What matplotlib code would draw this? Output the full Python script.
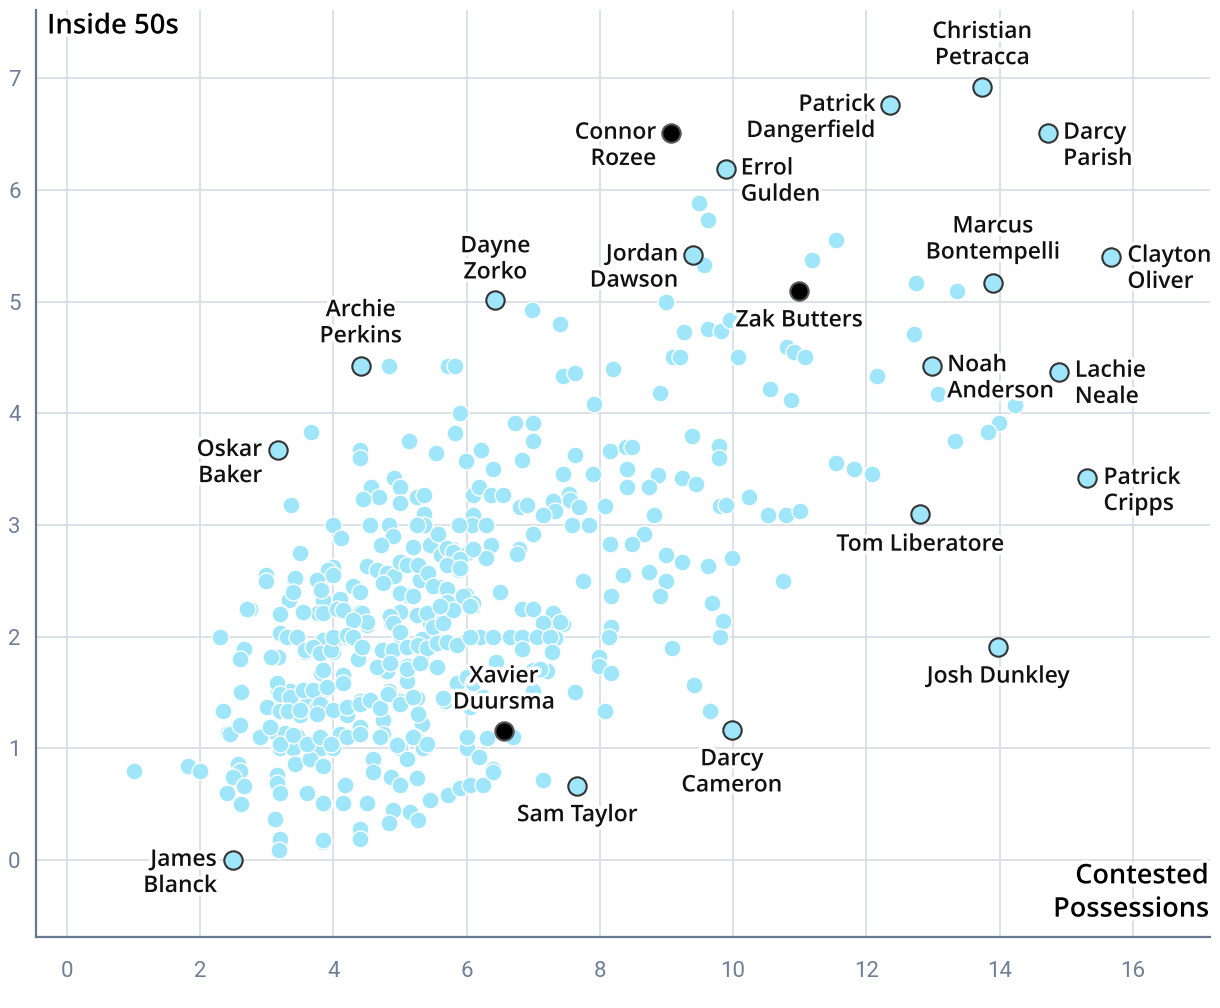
import matplotlib
matplotlib.use("Agg")
import matplotlib.pyplot as plt
import matplotlib.patheffects as pe

# ---------------- DATA ----------------
# Named players: contested possessions (x), inside 50s (y)
player_names = ["Christian\nPetracca", "Patrick\nDangerfield", "Darcy\nParish", "Connor\nRozee",
                "Errol\nGulden", "Clayton\nOliver", "Marcus\nBontempelli", "Jordan\nDawson",
                "Dayne\nZorko", "Zak Butters", "Archie\nPerkins", "Noah\nAnderson", "Lachie\nNeale",
                "Oskar\nBaker", "Patrick\nCripps", "Tom Liberatore", "Josh Dunkley", "Darcy\nCameron",
                "Xavier\nDuursma", "Sam Taylor", "James\nBlanck"]
player_contested = [13.74, 12.36, 14.73, 9.07, 9.89, 15.68, 13.90, 9.40, 6.43, 10.99, 4.41, 12.99,
                    14.89, 3.17, 15.32, 12.81, 13.98, 9.98, 6.56, 7.66, 2.49]
player_inside50 = [6.92, 6.76, 6.51, 6.51, 6.19, 5.40, 5.17, 5.42, 5.01, 5.09, 4.42, 4.42, 4.37,
                   3.67, 3.42, 3.10, 1.91, 1.16, 1.15, 0.66, 0.00]
player_highlight = [False, False, False, True, False, False, False, False, False, True, False, False,
                    False, False, False, False, False, False, True, False, False]

# Other players (contested, inside 50s), grouped by region of the chart
upper_pts = [(9.49, 5.88), (9.63, 5.73), (9.57, 5.33), (11.54, 5.55), (11.18, 5.37), (9.00, 5.00),
             (7.40, 4.80), (9.26, 4.73), (9.62, 4.75), (9.82, 4.74), (9.95, 4.83), (12.74, 5.17),
             (13.36, 5.09), (12.71, 4.71), (9.10, 4.50), (9.20, 4.50), (10.07, 4.50), (10.81, 4.59),
             (10.91, 4.55), (11.08, 4.50), (7.44, 4.33), (7.63, 4.36), (8.19, 4.40), (8.90, 4.18),
             (7.91, 4.08), (10.55, 4.22), (10.87, 4.12), (12.16, 4.33), (13.07, 4.17), (14.23, 4.07),
             (13.99, 3.91), (13.82, 3.83), (13.33, 3.75), (11.54, 3.55), (11.82, 3.50), (12.08, 3.46),
             (9.39, 3.80), (6.98, 4.92), (4.83, 4.42), (5.72, 4.42), (5.83, 4.42)]

mid_pts = [(7.63, 3.63), (8.15, 3.66), (8.40, 3.70), (8.49, 3.70), (9.79, 3.71), (9.79, 3.60),
           (7.45, 3.46), (7.90, 3.46), (8.41, 3.50), (8.41, 3.34), (8.88, 3.45), (8.74, 3.34),
           (9.24, 3.42), (9.44, 3.37), (7.54, 3.28), (7.55, 3.22), (7.30, 3.21), (7.33, 3.12),
           (7.68, 3.16), (7.15, 3.09), (8.08, 3.17), (8.81, 3.09), (7.58, 3.00), (7.83, 3.00),
           (9.80, 3.17), (9.90, 3.18), (10.24, 3.25), (10.53, 3.09), (10.80, 3.09), (11.00, 3.12),
           (8.66, 2.92), (8.15, 2.83), (8.49, 2.83), (8.99, 2.73), (9.24, 2.67), (9.62, 2.63),
           (9.99, 2.70), (7.74, 2.50), (8.35, 2.55), (8.74, 2.58), (8.99, 2.50), (8.90, 2.36),
           (8.17, 2.36), (10.75, 2.50), (9.69, 2.30), (9.85, 2.14), (9.81, 2.00), (8.17, 2.09),
           (8.14, 2.00), (7.44, 2.11), (7.18, 2.07), (7.33, 1.99), (7.28, 1.86), (7.99, 1.82),
           (7.99, 1.74), (8.16, 1.67), (9.09, 1.90), (9.42, 1.57), (7.15, 1.71), (7.20, 1.69),
           (7.62, 1.50), (8.08, 1.33), (9.66, 1.33), (7.15, 0.72)]

cluster_top_pts = [(5.90, 4.00), (5.82, 3.82), (6.73, 3.91), (6.99, 3.91), (6.99, 3.75), (6.83, 3.58),
                   (6.22, 3.67), (5.99, 3.57), (6.39, 3.50), (5.54, 3.64), (5.13, 3.75), (4.40, 3.67),
                   (4.40, 3.60), (4.91, 3.42), (5.00, 3.34), (5.00, 3.20), (4.57, 3.34), (4.68, 3.25),
                   (4.45, 3.23), (5.25, 3.25), (5.36, 3.27), (5.36, 3.10), (5.36, 3.00), (5.25, 3.00),
                   (6.09, 3.27), (6.18, 3.34), (6.36, 3.27), (6.54, 3.27), (6.09, 3.09), (6.08, 3.00),
                   (6.29, 3.00), (5.89, 3.00), (6.36, 2.82), (6.29, 2.70), (6.00, 2.75), (6.80, 3.16),
                   (6.90, 3.18), (6.99, 2.92), (6.78, 2.78), (6.75, 2.74), (4.00, 3.00), (4.12, 2.88),
                   (4.55, 3.00), (4.83, 3.00), (4.90, 2.90), (4.72, 2.82), (5.20, 2.80), (5.45, 2.82),
                   (5.57, 2.92), (5.78, 2.78), (5.90, 2.73), (5.62, 2.73), (5.72, 2.65), (5.89, 2.60),
                   (4.50, 2.63), (4.65, 2.60), (4.80, 2.57), (4.91, 2.54), (5.00, 2.67), (5.27, 2.64),
                   (5.42, 2.57), (4.33, 2.45), (4.00, 2.62), (4.00, 2.55), (5.10, 2.37), (5.30, 2.51),
                   (5.55, 2.45), (5.72, 2.43), (5.99, 2.37), (6.09, 2.27), (5.80, 2.30), (6.50, 2.40),
                   (6.83, 2.25), (7.00, 2.25), (3.80, 2.51), (3.85, 2.33), (4.12, 2.25), (4.40, 2.22),
                   (4.50, 2.13), (4.87, 2.13), (5.00, 2.22), (5.38, 2.21), (5.60, 2.13), (7.30, 2.21),
                   (7.40, 2.13), (7.15, 2.12)]

cluster_left_pts = [(3.66, 3.83), (3.36, 3.18), (3.50, 2.75), (2.99, 2.55), (2.99, 2.50), (3.41, 2.51),
                    (3.40, 2.40), (3.33, 2.33), (3.75, 2.51), (3.84, 2.33), (2.75, 2.25), (3.20, 2.21),
                    (3.55, 2.22), (3.77, 2.21), (3.92, 2.60),
                    (2.29, 2.00), (2.66, 1.89), (2.60, 1.80), (2.62, 1.50), (2.33, 1.33), (2.60, 1.20),
                    (2.42, 1.14), (2.89, 1.11), (1.00, 0.80), (1.82, 0.84), (2.00, 0.80), (2.57, 0.86),
                    (2.60, 0.80), (2.49, 0.74), (2.66, 0.66), (2.40, 0.60), (2.62, 0.50), (3.15, 0.76),
                    (3.15, 0.69), (3.20, 0.60), (3.60, 0.60), (3.12, 0.37), (3.20, 0.19), (3.18, 0.09),
                    (3.84, 0.16), (3.86, 0.50), (3.17, 1.82), (3.07, 1.82), (3.29, 2.00), (3.45, 2.00),
                    (3.57, 1.86), (3.82, 1.67), (3.15, 1.58), (3.17, 1.51), (3.35, 1.51), (3.00, 1.37),
                    (3.20, 1.33), (3.32, 1.33), (3.50, 1.30), (3.60, 1.40), (3.75, 1.37), (3.10, 1.15),
                    (3.27, 1.14), (3.45, 1.11), (3.20, 1.00), (3.40, 1.00), (3.67, 1.00), (3.82, 1.00),
                    (3.43, 0.86), (3.65, 0.90), (3.84, 0.84)]

cluster_low_pts = [(4.20, 2.00), (4.00, 1.94), (3.85, 1.97), (4.50, 2.10), (4.87, 2.12), (5.00, 2.01),
                   (5.45, 2.12), (5.50, 2.00), (5.33, 1.98), (5.35, 1.85), (5.10, 1.91), (5.10, 1.74),
                   (4.87, 1.88), (4.80, 1.69), (4.65, 1.73), (5.55, 1.73), (5.83, 1.92), (4.37, 1.80),
                   (4.15, 1.66), (4.00, 1.86), (3.85, 1.70), (3.85, 1.52), (6.20, 2.00), (6.40, 2.00),
                   (6.65, 2.00), (6.83, 2.00), (7.05, 2.00), (7.25, 2.00), (6.83, 1.89), (7.28, 1.86),
                   (6.44, 1.77), (7.00, 1.70), (7.10, 1.71), (5.85, 1.58), (6.25, 1.46), (6.15, 1.40),
                   (5.68, 1.42), (7.00, 1.51), (5.10, 1.60), (4.83, 1.51), (5.00, 1.42), (5.25, 1.45),
                   (4.40, 1.42), (4.20, 1.30), (4.40, 1.19), (4.75, 1.25), (4.75, 1.13), (5.33, 1.22),
                   (5.22, 1.10), (5.35, 1.00), (5.00, 1.00), (5.10, 0.90), (6.00, 1.00), (6.00, 1.10),
                   (6.18, 0.92), (6.40, 0.81), (6.30, 1.09), (6.70, 1.10), (4.10, 1.13), (4.00, 1.00),
                   (3.85, 0.84), (4.60, 0.90), (4.60, 0.79), (4.87, 0.74), (5.00, 0.67), (5.25, 0.73),
                   (4.17, 0.67), (4.15, 0.51), (4.50, 0.51), (3.85, 0.51), (5.45, 0.54), (5.72, 0.58),
                   (5.90, 0.64), (6.05, 0.67), (6.25, 0.67), (6.40, 0.79), (4.90, 0.45), (5.15, 0.43),
                   (5.27, 0.36), (4.83, 0.33), (4.40, 0.28), (4.40, 0.19), (3.85, 0.18)]

cluster_core_pts = [(5.70, 2.79), (5.80, 2.76), (5.90, 2.69), (5.10, 2.64), (5.27, 2.64), (5.42, 2.57),
                    (5.70, 2.64), (5.90, 2.61), (6.10, 2.78), (6.10, 2.30), (4.75, 2.48), (5.00, 2.39),
                    (5.20, 2.36), (5.50, 2.45), (5.70, 2.43), (5.80, 2.30), (5.70, 2.31), (5.95, 2.36),
                    (6.05, 2.27), (4.30, 2.45), (4.40, 2.40), (3.75, 2.51), (4.00, 2.55), (3.82, 2.42),
                    (4.10, 2.34), (3.42, 2.52), (3.40, 2.40), (3.20, 2.20), (3.55, 2.22), (3.85, 2.21),
                    (4.05, 2.25), (4.15, 2.24), (4.43, 2.21), (4.50, 2.13), (4.30, 2.15), (4.85, 2.18),
                    (4.90, 2.12), (5.00, 2.04), (5.25, 2.19), (5.40, 2.21), (5.50, 2.09), (5.65, 2.12),
                    (5.80, 2.24), (5.60, 2.27), (2.70, 2.25), (3.20, 2.03), (3.30, 2.00), (3.45, 2.00),
                    (3.57, 1.88), (3.70, 1.91), (3.80, 1.85), (3.97, 1.88), (4.00, 2.00), (4.20, 2.01),
                    (4.30, 2.00), (4.43, 1.91), (4.73, 1.88), (4.90, 1.88), (5.10, 1.91), (5.27, 1.92),
                    (5.40, 1.90), (5.55, 1.94), (5.70, 1.95), (4.85, 1.76), (5.10, 1.71), (5.30, 1.76),
                    (5.55, 1.73), (5.85, 1.92), (6.05, 2.00), (3.15, 1.58), (3.20, 1.49), (3.35, 1.46),
                    (3.55, 1.52), (3.70, 1.52), (3.90, 1.55), (4.15, 1.58), (3.80, 1.40), (3.32, 1.33),
                    (3.50, 1.34), (3.75, 1.31), (4.00, 1.34), (4.20, 1.37), (4.40, 1.40), (4.55, 1.43),
                    (4.70, 1.36), (4.82, 1.49), (5.00, 1.40), (5.20, 1.46), (5.27, 1.31), (2.61, 1.50),
                    (2.34, 1.33), (2.45, 1.13), (2.60, 1.21), (2.90, 1.10), (3.05, 1.19), (3.20, 1.04),
                    (3.40, 1.12), (3.60, 1.04), (3.80, 1.10), (3.97, 1.04), (4.20, 1.10), (4.40, 1.13),
                    (4.70, 1.10), (4.95, 1.03), (5.20, 1.10), (5.40, 1.04), (5.65, 1.45), (5.85, 1.58),
                    (6.00, 1.64), (6.10, 1.58), (6.05, 1.37)]

x_ticks = [0, 2, 4, 6, 8, 10, 12, 14, 16]
y_ticks = [0, 1, 2, 3, 4, 5, 6, 7]

# ---------------- LAYOUT / STYLE ----------------
# label offsets in pixels (dx, dy) and horizontal alignment
label_layout = {
    "Christian\nPetracca": (0, 42, "center"),
    "Patrick\nDangerfield": (-15, -13, "right"),
    "Darcy\nParish": (15, -13, "left"),
    "Connor\nRozee": (-15, -13, "right"),
    "Errol\nGulden": (15, -13, "left"),
    "Clayton\nOliver": (16, -12, "left"),
    "Marcus\nBontempelli": (0, 43, "center"),
    "Jordan\nDawson": (-15, -13, "right"),
    "Dayne\nZorko": (0, 41, "center"),
    "Zak Butters": (0, -29, "center"),
    "Archie\nPerkins": (0, 43, "center"),
    "Noah\nAnderson": (15, -12, "left"),
    "Lachie\nNeale": (16, -12, "left"),
    "Oskar\nBaker": (-16, -13, "right"),
    "Patrick\nCripps": (16, -13, "left"),
    "Tom Liberatore": (0, -31, "center"),
    "Josh Dunkley": (0, -30, "center"),
    "Darcy\nCameron": (0, -42, "center"),
    "Xavier\nDuursma": (0, 42, "center"),
    "Sam Taylor": (0, -29, "center"),
    "James\nBlanck": (-16, -13, "right"),
}

BLUE = "#9fe6fb"
GRID = "#d6dbe4"
SPINE = "#67788f"
TICK = "#6f7f98"
LABEL_FONT = ["Open Sans", "DejaVu Sans"]
TICK_FONT = ["Roboto", "DejaVu Sans"]

plt.rcParams["font.family"] = LABEL_FONT

fig = plt.figure(figsize=(12.2, 10.08), dpi=100)
ax = fig.add_axes([36 / 1220, 71 / 1008, 1174 / 1220, 927 / 1008])
ax.set_xlim(-0.465, 17.16)
ax.set_ylim(-0.69, 7.61)

ax.set_xticks(x_ticks)
ax.set_yticks(y_ticks)
ax.set_xticklabels([str(t) for t in x_ticks])
ax.set_yticklabels([str(t) for t in y_ticks])
ax.tick_params(length=0, labelsize=16, labelcolor=TICK)
ax.tick_params(axis="x", pad=17)
ax.tick_params(axis="y", pad=11)
for lab in ax.get_xticklabels() + ax.get_yticklabels():
    lab.set_family(TICK_FONT)
    lab.set_fontweight("normal")

ax.grid(True, color=GRID, linewidth=1.2)
ax.set_axisbelow(True)
for side in ["top", "right"]:
    ax.spines[side].set_visible(False)
for side in ["left", "bottom"]:
    ax.spines[side].set_color(SPINE)
    ax.spines[side].set_linewidth(1.6)

others = upper_pts + mid_pts + cluster_top_pts + cluster_left_pts + cluster_low_pts + cluster_core_pts
ox = [p[0] for p in others]
oy = [p[1] for p in others]
ax.scatter(ox, oy, s=150, c=BLUE, edgecolors="white", linewidths=1.0, zorder=2)

# named players
norm_x = [x for x, h in zip(player_contested, player_highlight) if not h]
norm_y = [y for y, h in zip(player_inside50, player_highlight) if not h]
hi_x = [x for x, h in zip(player_contested, player_highlight) if h]
hi_y = [y for y, h in zip(player_inside50, player_highlight) if h]
ax.scatter(norm_x, norm_y, s=175, c=BLUE, edgecolors="#333333", linewidths=1.5, zorder=4)
ax.scatter(hi_x, hi_y, s=175, c="#000000", edgecolors="#555555", linewidths=1.5, zorder=4)

halo = [pe.withStroke(linewidth=5, foreground="white")]
for name, x, y in zip(player_names, player_contested, player_inside50):
    dx, dy, ha = label_layout[name]
    ax.annotate(name, xy=(x, y), xytext=(dx, dy), textcoords="offset pixels",
                ha=ha, va="center", multialignment=ha,
                fontsize=16.5, fontweight="semibold", color="#111111", linespacing=1.12,
                path_effects=halo, zorder=5, annotation_clip=False)

ax.annotate("Inside 50s", xy=(0, 1), xycoords="axes fraction", xytext=(11, -16),
            textcoords="offset pixels", ha="left", va="center", fontsize=19.8,
            fontweight="semibold", color="#000000", path_effects=halo, zorder=6)
ax.annotate("Contested\nPossessions", xy=(1, 0), xycoords="axes fraction", xytext=(-1, 44),
            textcoords="offset pixels", ha="right", va="center", multialignment="right",
            fontsize=19.5, fontweight="semibold", color="#000000", linespacing=1.25,
            path_effects=halo, zorder=6)

fig.savefig("out.png", dpi=100, facecolor="white")
